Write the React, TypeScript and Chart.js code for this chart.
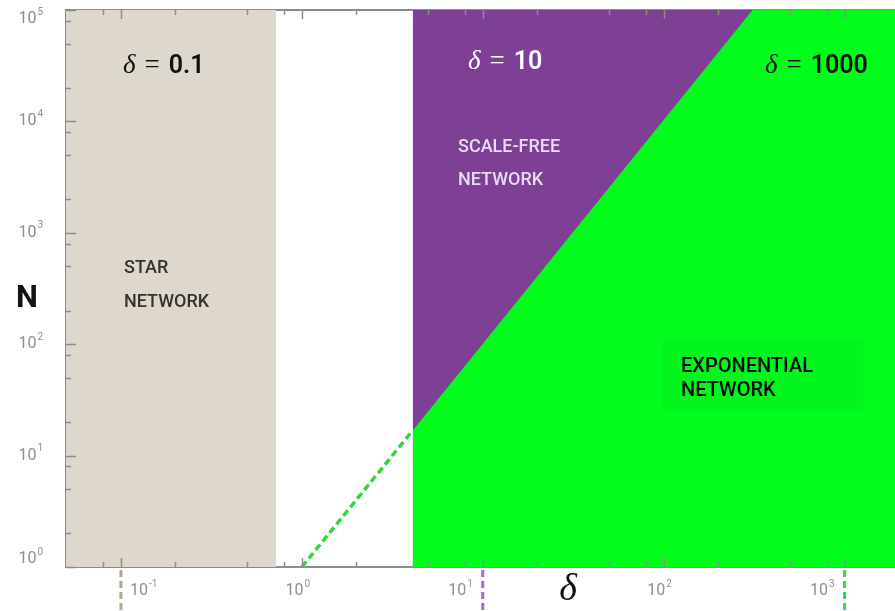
import { useEffect, useRef } from 'react';
import { Chart, registerables } from 'chart.js';

Chart.register(...registerables);

const WIDTH = 895;
const HEIGHT = 611;

// Axis ranges (log scales)
const deltaRange = [0.0497, 1900];
const nRange = [1, 100000];

// Decade ticks and their exponents
const deltaDecades = [0.01, 0.1, 1, 10, 100, 1000];
const deltaExponents = ['-2', '-1', '0', '1', '2', '3'];
const nDecades = [1, 10, 100, 1000, 10000, 100000];
const nExponents = ['0', '1', '2', '3', '4', '5'];
const minorMultiples = [2, 5, 8];

// Regime boundaries
const starLimit = 0.72; // upper δ of the star-network band
const scaleFreeStart = 4.1; // δ where the scale-free / exponential regimes begin
const crossoverDelta = [1, 4.1, 310]; // N = δ² crossover
const crossoverN = [1, 16.8, 100000];

// δ values flagged under the axis
const markedDeltas = [0.1, 10, 1000];
const markedColors = ['#b4a88f', '#a964dc', '#2fe03d'];

// Region annotations
const deltaLabels = ['0.1', '10', '1000'];
const regionNames = [['STAR', 'NETWORK'], ['SCALE-FREE', 'NETWORK'], ['EXPONENTIAL', 'NETWORK']];

const TAN = '#ded7cc';
const PURPLE = '#7d4094';
const GREEN = '#00fd1c';
const AXIS = '#8c8c8c';
const LABEL = '#8f8f8f';

const pts = (xs: number[], ys: number[]) => xs.map((x, i) => ({ x, y: ys[i] }));

function drawPower(ctx: CanvasRenderingContext2D, exp: string, x: number, yMid: number, align: 'left' | 'right' | 'center') {
  ctx.font = '16px Roboto';
  const bw = ctx.measureText('10').width;
  ctx.font = '10px Roboto';
  const ew = ctx.measureText(exp).width;
  const total = bw + ew + 1;
  const left = align === 'right' ? x - total : align === 'left' ? x : x - total / 2;
  ctx.fillStyle = LABEL;
  ctx.textAlign = 'left';
  ctx.textBaseline = 'middle';
  ctx.font = '16px Roboto';
  ctx.fillText('10', left, yMid);
  ctx.font = '10px Roboto';
  ctx.fillText(exp, left + bw + 1, yMid - 7);
}

function drawDeltaEq(ctx: CanvasRenderingContext2D, value: string, x: number, baseline: number, color: string) {
  ctx.fillStyle = color;
  ctx.textAlign = 'left';
  ctx.textBaseline = 'alphabetic';
  ctx.font = 'italic 27px "Liberation Serif"';
  ctx.fillText('δ', x, baseline);
  let cx = x + ctx.measureText('δ').width + 9;
  ctx.font = '27px "Liberation Serif"';
  ctx.fillText('=', cx, baseline);
  cx += ctx.measureText('=').width + 9;
  ctx.font = '600 25px Roboto';
  ctx.fillText(value, cx, baseline);
}

const decorations = {
  id: 'decorations',
  afterDraw(chart: any) {
    const { ctx, chartArea: a } = chart;
    const xs = chart.scales.x;
    const ys = chart.scales.y;
    ctx.save();

    // faint panel behind the exponential label
    ctx.fillStyle = 'rgba(30,90,30,0.05)';
    ctx.fillRect(662, 340, 201, 70);

    // inward tick marks on all framed sides
    ctx.strokeStyle = AXIS;
    ctx.lineWidth = 1.5;
    const seg = (x1: number, y1: number, x2: number, y2: number) => {
      ctx.beginPath();
      ctx.moveTo(x1, y1);
      ctx.lineTo(x2, y2);
      ctx.stroke();
    };
    for (const d of deltaDecades) {
      for (const m of [1, ...minorMultiples]) {
        const v = d * m;
        if (v <= xs.min * 1.02 || v > xs.max) continue;
        const px = Math.round(xs.getPixelForValue(v)) + 0.5;
        const len = m === 1 ? 9 : 5;
        seg(px, a.bottom, px, a.bottom - len);
        seg(px, a.top, px, a.top + len);
      }
    }
    for (const n of nDecades) {
      for (const m of [1, ...minorMultiples]) {
        const v = n * m;
        if (v < ys.min || v > ys.max) continue;
        const py = Math.round(ys.getPixelForValue(v)) + 0.5;
        const len = m === 1 ? 10 : 5;
        seg(a.left, py, a.left + len, py);
      }
    }

    // dashed markers under the δ axis
    ctx.lineWidth = 3;
    ctx.setLineDash([7, 4]);
    markedDeltas.forEach((d, i) => {
      const px = xs.getPixelForValue(d);
      ctx.strokeStyle = markedColors[i];
      seg(px, a.bottom + 3, px, HEIGHT);
    });
    ctx.setLineDash([]);

    // tick labels
    deltaDecades.forEach((d, i) => {
      if (d < xs.min || d > xs.max) return;
      const px = xs.getPixelForValue(d);
      const mi = markedDeltas.indexOf(d);
      if (mi === 0) drawPower(ctx, deltaExponents[i], px + 9, 591, 'left');
      else if (mi > 0) drawPower(ctx, deltaExponents[i], px - 10, 591, 'right');
      else drawPower(ctx, deltaExponents[i], px - 4, 591, 'center');
    });
    nDecades.forEach((n, i) => {
      const py = Math.min(Math.max(ys.getPixelForValue(n), a.top + 9), a.bottom - 8);
      drawPower(ctx, nExponents[i], a.left - 23, py, 'right');
    });

    // axis titles
    ctx.fillStyle = '#111';
    ctx.textAlign = 'center';
    ctx.textBaseline = 'middle';
    ctx.font = 'bold 31px Roboto';
    ctx.fillText('N', 27, 299);
    ctx.font = 'italic 38px "Liberation Serif"';
    ctx.fillText('δ', 568, 590);

    // δ annotations
    drawDeltaEq(ctx, deltaLabels[0], 123, 73, '#111');
    drawDeltaEq(ctx, deltaLabels[1], 468, 69, '#ffffff');
    drawDeltaEq(ctx, deltaLabels[2], 765, 73, '#111');

    // regime names
    ctx.textAlign = 'left';
    ctx.textBaseline = 'alphabetic';
    ctx.font = '500 18px Roboto';
    ctx.fillStyle = '#35312c';
    ctx.fillText(regionNames[0][0], 124, 273);
    ctx.fillText(regionNames[0][1], 124, 307);
    ctx.fillStyle = '#e6dcee';
    ctx.fillText(regionNames[1][0], 458, 152);
    ctx.fillText(regionNames[1][1], 458, 185);
    ctx.font = '500 20px Roboto';
    ctx.fillStyle = '#0a0a0a';
    ctx.fillText(regionNames[2][0], 681, 372);
    ctx.fillText(regionNames[2][1], 681, 396);

    ctx.restore();
  },
};

export default function App() {
  const ref = useRef<HTMLCanvasElement | null>(null);

  useEffect(() => {
    if (!ref.current) return;
    const farRight = deltaRange[1] * 10;
    const aboveTop = nRange[1] * 2;
    const chart = new Chart(ref.current, {
      type: 'line',
      data: {
        datasets: [
          {
            label: 'star',
            data: pts([deltaRange[0] / 10, starLimit], [aboveTop, aboveTop]),
            fill: 'start',
            backgroundColor: TAN,
            borderWidth: 0,
            pointRadius: 0,
            order: 4,
          },
          {
            label: 'scale-free',
            data: pts([scaleFreeStart, farRight], [aboveTop, aboveTop]),
            fill: 'start',
            backgroundColor: PURPLE,
            borderWidth: 0,
            pointRadius: 0,
            order: 3,
          },
          {
            label: 'exponential',
            data: pts([...crossoverDelta.slice(1), farRight], [...crossoverN.slice(1), crossoverN[2]]),
            fill: 'start',
            backgroundColor: GREEN,
            borderWidth: 0,
            pointRadius: 0,
            order: 2,
          },
          {
            label: 'crossover',
            data: pts(crossoverDelta.slice(0, 2), crossoverN.slice(0, 2)),
            fill: false,
            borderColor: '#2fd83c',
            borderWidth: 3.5,
            borderDash: [7, 4],
            pointRadius: 0,
            order: 1,
          },
        ],
      },
      options: {
        responsive: false,
        animation: false,
        devicePixelRatio: 1,
        layout: { padding: 0 },
        plugins: { legend: { display: false }, tooltip: { enabled: false } },
        scales: {
          x: {
            type: 'logarithmic',
            position: 'bottom',
            min: deltaRange[0],
            max: deltaRange[1],
            z: 1,
            ticks: { display: false },
            grid: { display: false },
            border: { display: true, color: AXIS, width: 2 },
            afterFit: (s: any) => { s.height = 44; },
          },
          x2: {
            type: 'logarithmic',
            position: 'top',
            min: deltaRange[0],
            max: deltaRange[1],
            z: 1,
            ticks: { display: false },
            grid: { display: false },
            border: { display: true, color: AXIS, width: 2 },
            afterFit: (s: any) => { s.height = 10; },
          },
          y: {
            type: 'logarithmic',
            min: nRange[0],
            max: nRange[1],
            z: 1,
            ticks: { display: false },
            grid: { display: false },
            border: { display: true, color: AXIS, width: 2 },
            afterFit: (s: any) => { s.width = 66; },
          },
        },
      },
      plugins: [decorations],
    } as any);
    return () => chart.destroy();
  }, []);

  return (
    <div style={{ position: 'absolute', left: 0, top: 0, width: WIDTH, height: HEIGHT, background: '#fff' }}>
      <canvas ref={ref} width={WIDTH} height={HEIGHT} style={{ display: 'block' }} />
    </div>
  );
}
